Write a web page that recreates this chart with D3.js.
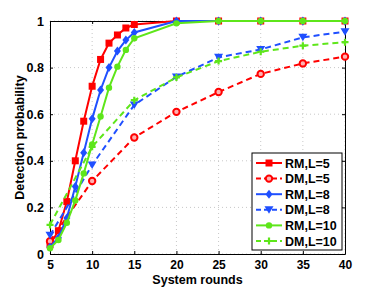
<!DOCTYPE html>
<html>
<head>
<meta charset="utf-8">
<script src="https://cdn.jsdelivr.net/npm/d3@7"></script>
<style>
  body { margin: 0; background: #fff; }
  svg text { font-family: "Liberation Sans", Arial, sans-serif; font-weight: bold; }
</style>
</head>
<body>
<div id="chart"></div>
<script>
// rounds where each curve was sampled
var rmRounds = [5, 6, 7, 8, 9, 10, 11, 12, 13, 14, 15, 20, 25, 30, 35, 40];
var dmRounds = [5, 10, 15, 20, 25, 30, 35, 40];

var rmL5 = [0.04, 0.10, 0.225, 0.40, 0.57, 0.72, 0.835, 0.905, 0.94, 0.97, 0.985, 1, 1, 1, 1, 1];
var dmL5 = [0.055, 0.313, 0.50, 0.61, 0.695, 0.773, 0.818, 0.847];
var rmL8 = [0.03, 0.07, 0.155, 0.29, 0.435, 0.58, 0.704, 0.80, 0.871, 0.918, 0.951, 1, 1, 1, 1, 1];
var dmL8 = [0.08, 0.382, 0.64, 0.76, 0.844, 0.878, 0.93, 0.954];
var rmL10 = [0.025, 0.06, 0.134, 0.23, 0.346, 0.47, 0.59, 0.714, 0.804, 0.876, 0.926, 0.99, 1, 1, 1, 1];
var dmL10 = [0.125, 0.46, 0.66, 0.758, 0.828, 0.868, 0.894, 0.909];

var xTicks = [5, 10, 15, 20, 25, 30, 35, 40];
var yTicks = [0, 0.2, 0.4, 0.6, 0.8, 1];

var series = [
  {name: "RM,L=5", x: rmRounds, y: rmL5, color: "#ff0000", dash: null, marker: "square"},
  {name: "DM,L=5", x: dmRounds, y: dmL5, color: "#ff0000", dash: "6,4", marker: "circle"},
  {name: "RM,L=8", x: rmRounds, y: rmL8, color: "#1f4fff", dash: null, marker: "diamond"},
  {name: "DM,L=8", x: dmRounds, y: dmL8, color: "#1f4fff", dash: "6,4", marker: "triangle"},
  {name: "RM,L=10", x: rmRounds, y: rmL10, color: "#5ee61a", dash: null, marker: "dot"},
  {name: "DM,L=10", x: dmRounds, y: dmL10, color: "#5ee61a", dash: "6,4", marker: "plus"}
];

var margin = {top: 21, right: 37, bottom: 33, left: 50},
    W = 382, H = 287,
    width = W - margin.left - margin.right,
    height = H - margin.top - margin.bottom;

var x = d3.scaleLinear().domain([5, 40]).range([0, width]);
var y = d3.scaleLinear().domain([0, 1]).range([height, 0]);

var svg = d3.select("#chart").append("svg")
    .attr("width", W)
    .attr("height", H);
var g = svg.append("g")
    .attr("transform", "translate(" + margin.left + "," + margin.top + ")");

// dotted grid
g.append("g").selectAll("line").data(xTicks).enter().append("line")
    .attr("x1", function(d) { return x(d); }).attr("x2", function(d) { return x(d); })
    .attr("y1", 0).attr("y2", height)
    .style("stroke", "#c8c8c8").style("stroke-dasharray", "1,3");
g.append("g").selectAll("line").data(yTicks).enter().append("line")
    .attr("y1", function(d) { return y(d); }).attr("y2", function(d) { return y(d); })
    .attr("x1", 0).attr("x2", width)
    .style("stroke", "#c8c8c8").style("stroke-dasharray", "1,3");

// axes (matlab style: ticks inside, box all round)
var xAxis = g.append("g")
    .attr("transform", "translate(0," + height + ")")
    .call(d3.axisBottom(x).tickValues(xTicks).tickSizeInner(-3).tickSizeOuter(0).tickPadding(6));
var yAxis = g.append("g")
    .call(d3.axisLeft(y).tickValues(yTicks).tickFormat(d3.format("")).tickSizeInner(-3).tickSizeOuter(0).tickPadding(6));
g.append("g").attr("transform", "translate(0,0)")
    .call(d3.axisTop(x).tickValues(xTicks).tickSizeInner(-3).tickSizeOuter(0).tickFormat(""));
g.append("g").attr("transform", "translate(" + width + ",0)")
    .call(d3.axisRight(y).tickValues(yTicks).tickSizeInner(-3).tickSizeOuter(0).tickFormat(""));
g.selectAll(".domain").style("stroke", "#000");
g.selectAll(".tick line").style("stroke", "#000");
g.selectAll(".tick text").style("font-size", "12.5px").style("fill", "#000")
    .style("font-family", "'Liberation Sans', Arial, sans-serif").style("font-weight", "bold");
xAxis.selectAll(".tick text").style("font-size", "12px");

// curves
var line = d3.line()
    .x(function(d) { return x(d[0]); })
    .y(function(d) { return y(d[1]); });

function drawMarker(sel, type, color) {
  if (type === "square") {
    sel.append("rect").attr("x", -3.5).attr("y", -3.5).attr("width", 7).attr("height", 7)
        .style("fill", color);
  } else if (type === "circle") {
    sel.append("circle").attr("r", 3.2)
        .style("fill", "#ffb0b0").style("stroke", color).style("stroke-width", 2);
  } else if (type === "diamond") {
    sel.append("path").attr("d", "M0,-4.5L3.5,0L0,4.5L-3.5,0Z").style("fill", color);
  } else if (type === "triangle") {
    sel.append("path").attr("d", "M-4.5,-3.5L4.5,-3.5L0,4Z").style("fill", color);
  } else if (type === "dot") {
    sel.append("circle").attr("r", 3.2).style("fill", color);
  } else if (type === "plus") {
    sel.append("path").attr("d", "M-3.5,0H3.5M0,-3.5V3.5")
        .style("stroke", color).style("stroke-width", 2.2);
  }
}

series.forEach(function(s) {
  var pts = s.x.map(function(v, i) { return [v, s.y[i]]; });
  var sg = g.append("g");
  sg.append("path").datum(pts)
      .attr("d", line)
      .style("fill", "none")
      .style("stroke", s.color)
      .style("stroke-width", 2)
      .style("stroke-dasharray", s.dash);
  sg.selectAll("g.mk").data(pts).enter().append("g")
      .attr("class", "mk")
      .attr("transform", function(d) { return "translate(" + x(d[0]) + "," + y(d[1]) + ")"; })
      .each(function() { drawMarker(d3.select(this), s.marker, s.color); });
});

// axis labels
svg.append("text")
    .attr("x", margin.left + width / 2).attr("y", H - 3)
    .attr("text-anchor", "middle")
    .style("font-size", "12.5px")
    .text("System rounds");
svg.append("text")
    .attr("transform", "translate(24," + (margin.top + height / 2) + ") rotate(-90)")
    .attr("text-anchor", "middle")
    .style("font-size", "12.5px")
    .text("Detection probability");

// legend
var lg = svg.append("g").attr("transform", "translate(252,153)");
lg.append("rect").attr("width", 90).attr("height", 97)
    .style("fill", "#fff").style("stroke", "#000").style("stroke-width", 1);
series.forEach(function(s, i) {
  var row = lg.append("g").attr("transform", "translate(0," + (10 + i * 15.6) + ")");
  row.append("line").attr("x1", 4).attr("x2", 30).attr("y1", 0).attr("y2", 0)
      .style("stroke", s.color).style("stroke-width", 2)
      .style("stroke-dasharray", s.dash ? "5,3" : null);
  var mk = row.append("g").attr("transform", "translate(17,0)");
  drawMarker(mk, s.marker, s.color);
  row.append("text").attr("x", 33).attr("y", 4.5)
      .style("font-size", "12.5px")
      .text(s.name);
});
</script>
</body>
</html>
